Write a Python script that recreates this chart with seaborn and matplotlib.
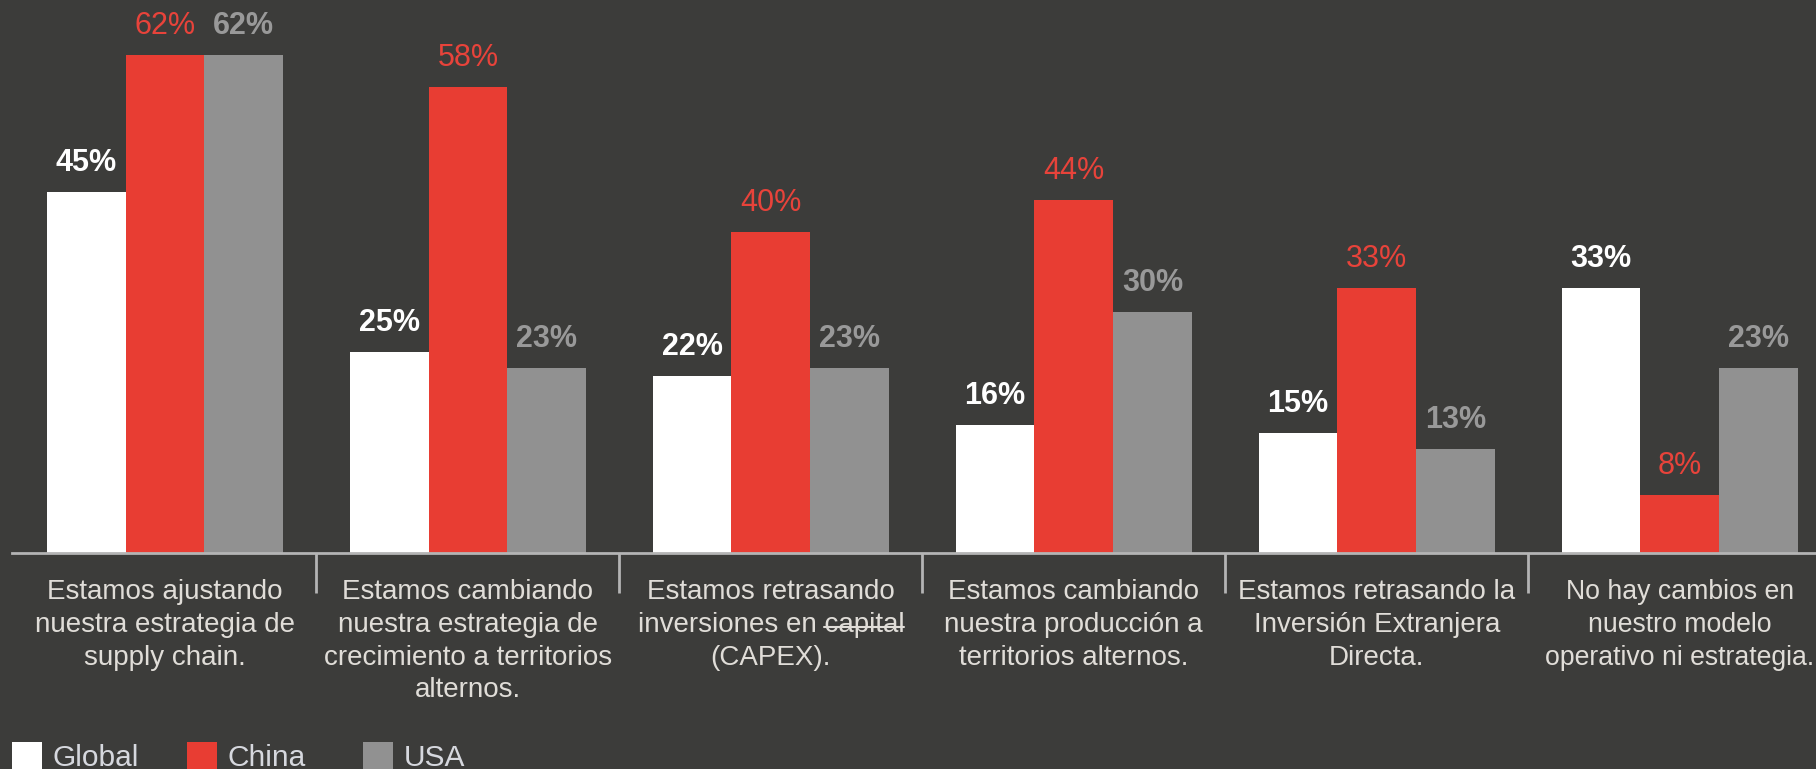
import numpy as np
import pandas as pd
import matplotlib
matplotlib.use("Agg")
import matplotlib.pyplot as plt
from matplotlib.patches import Patch
from matplotlib.lines import Line2D
import seaborn as sns

# ---------------- data ----------------
categories = [
    "Estamos ajustando\nnuestra estrategia de\nsupply chain.",
    "Estamos cambiando\nnuestra estrategia de\ncrecimiento a territorios\nalternos.",
    "Estamos retrasando\ninversiones en capital\n(CAPEX).",
    "Estamos cambiando\nnuestra producción a\nterritorios alternos.",
    "Estamos retrasando la\nInversión Extranjera\nDirecta.",
    "No hay cambios en\nnuestro modelo\noperativo ni estrategia.",
]
struck_word = "capital"   # shown struck through in the 3rd category label
series = ["Global", "China", "USA"]
global_vals = [45, 25, 22, 16, 15, 33]
china_vals = [62, 58, 40, 44, 33, 7.2]
usa_vals = [62, 23, 23, 30, 13, 23]
global_labels = ["45%", "25%", "22%", "16%", "15%", "33%"]
china_labels = ["62%", "58%", "40%", "44%", "33%", "8%"]
usa_labels = ["62%", "23%", "23%", "30%", "13%", "23%"]

# ---------------- style ----------------
BG = "#3c3c3a"
WHITE = "#ffffff"
RED = "#e83d33"
GRAY = "#919191"
TEXT = "#e0ddd8"
AXIS = "#b4b4b4"

sns.set_theme(style="white")
plt.rcParams["font.family"] = ["Liberation Sans", "DejaVu Sans"]

df = pd.DataFrame({
    "category": categories * 3,
    "series": [s for s in series for _ in categories],
    "value": global_vals + china_vals + usa_vals,
})

W, H = 1816, 769
fig = plt.figure(figsize=(W / 100, H / 100), dpi=100, facecolor=BG)
base_y = 553
ax = fig.add_axes([12 / W, (H - base_y) / H, 1 - 12 / W, base_y / H])
ax.set_facecolor(BG)

sns.barplot(
    data=df, x="category", y="value", hue="series",
    order=categories, hue_order=series,
    palette=[WHITE, RED, GRAY], saturation=1, width=0.78,
    linewidth=0, legend=False, ax=ax,
)

ax.set_xlim(-0.505, len(categories) - 1 + 0.45)
ax.set_ylim(0, base_y / 8.03)

label_sets = [global_labels, china_labels, usa_labels]
label_colors = ["#ffffff", "#e8433a", "#999999"]
label_weights = ["bold", "normal", "bold"]
for cont, labs, col, wt in zip(ax.containers, label_sets, label_colors, label_weights):
    ax.bar_label(cont, labels=labs, padding=10, color=col, fontsize=22,
                 fontweight=wt)

# axes styling
for s in ["left", "right", "top"]:
    ax.spines[s].set_visible(False)
ax.spines["bottom"].set_color(AXIS)
ax.spines["bottom"].set_linewidth(2)
ax.set_yticks([])
ax.set_xlabel("")
ax.set_ylabel("")
ax.set_xticks(np.arange(len(categories)))
ax.set_xticklabels(categories, fontsize=20, color=TEXT, linespacing=1.33)
ax.get_xticklabels()[-1].set_fontsize(19.2)
ax.set_xticks(np.arange(len(categories) - 1) + 0.5, minor=True)
ax.tick_params(axis="x", which="major", bottom=True, length=0, pad=19,
               labelcolor=TEXT)
ax.tick_params(axis="x", which="minor", bottom=True, length=29, width=2,
               color=AXIS, direction="out")

# legend: three separate entries
leg_x = [12, 187, 363]
for name, colr, lx in zip(series, [WHITE, RED, GRAY], leg_x):
    lg = fig.legend(
        handles=[Patch(facecolor=colr, edgecolor="none", label=name)],
        loc="center left", bbox_to_anchor=(lx / W, (H - 757) / H),
        frameon=False, fontsize=21.5, handlelength=1.0, handleheight=1.0,
        handletextpad=0.37, borderpad=0, borderaxespad=0,
    )
    for t in lg.get_texts():
        t.set_color("#d6d8de")

# strike-through decoration on the word "capital"
fig.canvas.draw()
r = fig.canvas.get_renderer()
lbl = ax.get_xticklabels()[2]
bb = lbl.get_window_extent(r)
line2 = lbl.get_text().split("\n")[1]
tmp = fig.text(0, 0, line2, fontproperties=lbl.get_fontproperties())
w_full = tmp.get_window_extent(r).width
tmp.set_text(struck_word)
w_word = tmp.get_window_extent(r).width
tmp.remove()
cx = (bb.x0 + bb.x1) / 2
x1 = cx + w_full / 2
x0 = x1 - w_word
ymid = (bb.y0 + bb.y1) / 2 - 2
fig.add_artist(Line2D([x0, x1], [ymid, ymid], transform=None, color=TEXT,
                      linewidth=1.5))

fig.savefig("out.png", dpi=100, facecolor=BG)
